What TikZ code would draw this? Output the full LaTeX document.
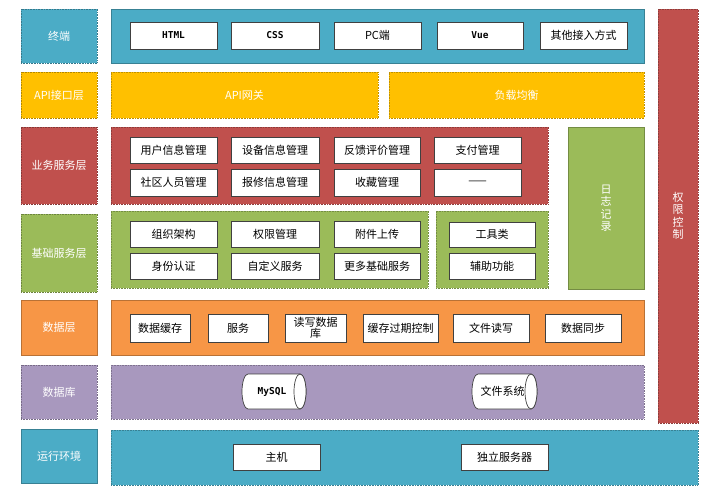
\documentclass[tikz,border=0pt]{standalone}
\usepackage{fontspec}
\setmainfont{Noto Sans CJK SC}
\newfontfamily\latmono{DejaVu Sans Mono}
\definecolor{cteal}{HTML}{4BACC6}
\definecolor{cyel}{HTML}{FFC000}
\definecolor{cred}{HTML}{C0504D}
\definecolor{cgreen}{HTML}{9BBB59}
\definecolor{corange}{HTML}{F79646}
\definecolor{cpurple}{HTML}{A898BE}
\newcommand\mybox[7]{%
  \pgfmathsetmacro\bxw{#4-#2}\pgfmathsetmacro\bxh{#5-#3}%
  \node[#6,minimum width=\bxw pt,minimum height=\bxh pt] (#1) at ({(#2+#4)/2},{(#3+#5)/2}) {#7};}
% horizontal cylinder: name, x1, y1, x2, y2, style, text
\newcommand\mycyl[7]{%
  \pgfmathsetmacro\cyrx{6}\pgfmathsetmacro\cyry{(#5-#3)/2}%
  \pgfmathsetmacro\cya{#2+\cyrx}\pgfmathsetmacro\cyb{#4-\cyrx}%
  \filldraw[cylstyle] (\cya,#3) -- (\cyb,#3)
     arc[start angle=-90,end angle=90,x radius=\cyrx,y radius=\cyry]
     -- (\cya,#5)
     arc[start angle=90,end angle=270,x radius=\cyrx,y radius=\cyry] -- cycle;
  \draw[cylstyle] (\cyb,{(#3+#5)/2}) ellipse[x radius=\cyrx,y radius=\cyry];
  \node[#6] (#1) at ({(#2+#4)/2-2},{(#3+#5)/2}) {#7};}
\begin{document}
\begin{tikzpicture}[x=1pt,y=-1pt,
  every node/.style={inner sep=0pt,outer sep=0pt,font=\fontsize{11}{13}\selectfont},
  lab/.style={fill=#1,draw=#1!70!black,densely dotted,line width=0.6pt,text=white},
  area/.style={fill=#1,draw=#1!75!black,line width=0.6pt,text=white},
  darea/.style={fill=#1,draw=#1!75!black,densely dotted,line width=0.6pt,text=white},
  item/.style={fill=white,draw=black!75,line width=0.7pt,text=black},
  lt/.style={font=\latmono\bfseries\fontsize{9.5}{11}\selectfont},
  cylstyle/.style={fill=white,draw=black!75,line width=0.7pt},
  cyltext/.style={text=black}]
\useasboundingbox (0,0) rectangle (708,491);
% right column
\mybox{perm}{658}{9}{698}{423}{darea=cred,align=center,font=\fontsize{11}{12.5}\selectfont}{权\\限\\控\\制}
% row 1
\mybox{l1}{21}{9}{97}{63}{lab=cteal}{终端}
\mybox{a1}{111}{9}{644}{63}{area=cteal}{}
\mybox{t1}{130}{22}{217}{49}{item,lt}{HTML}
\mybox{t2}{231}{22}{319}{49}{item,lt}{CSS}
\mybox{t3}{334}{22}{421}{49}{item}{PC端}
\mybox{t4}{437}{22}{523}{49}{item,lt}{Vue}
\mybox{t5}{540}{22}{627}{49}{item}{其他接入方式}
% row 2
\mybox{l2}{21}{72}{97}{118}{lab=cyel}{API接口层}
\mybox{a2}{111}{72}{378}{118}{darea=cyel}{API网关}
\mybox{a2b}{389}{72}{644}{118}{darea=cyel}{负载均衡}
% row 3
\mybox{l3}{21}{127}{97}{204}{lab=cred}{业务服务层}
\mybox{a3}{111}{127}{548}{204}{darea=cred}{}
\mybox{b1}{130}{137}{217}{163}{item}{用户信息管理}
\mybox{b2}{231}{137}{319}{163}{item}{设备信息管理}
\mybox{b3}{334}{137}{420}{163}{item}{反馈评价管理}
\mybox{b4}{434}{137}{521}{163}{item}{支付管理}
\mybox{b5}{130}{169}{217}{196}{item}{社区人员管理}
\mybox{b6}{231}{169}{319}{196}{item}{报修信息管理}
\mybox{b7}{334}{169}{420}{196}{item}{收藏管理}
\mybox{b8}{434}{169}{521}{196}{item}{——}
\mybox{log}{568}{127}{644}{289}{area=cgreen,align=center,font=\fontsize{11}{12.5}\selectfont}{日\\志\\记\\录}
% row 4
\mybox{l4}{21}{214}{97}{292}{lab=cgreen}{基础服务层}
\mybox{a4}{111}{211}{428}{288}{darea=cgreen}{}
\mybox{a4b}{436}{211}{548}{288}{darea=cgreen}{}
\mybox{c1}{130}{221}{217}{247}{item}{组织架构}
\mybox{c2}{231}{221}{319}{247}{item}{权限管理}
\mybox{c3}{334}{221}{420}{247}{item}{附件上传}
\mybox{c4}{130}{253}{217}{279}{item}{身份认证}
\mybox{c5}{231}{253}{319}{279}{item}{自定义服务}
\mybox{c6}{334}{253}{420}{279}{item}{更多基础服务}
\mybox{c7}{449}{222}{535}{247}{item}{工具类}
\mybox{c8}{449}{253}{535}{279}{item}{辅助功能}
% row 5
\mybox{l5}{21}{300}{97}{355}{area=corange}{数据层}
\mybox{a5}{111}{300}{644}{355}{area=corange}{}
\mybox{d1}{130}{314}{190}{342}{item}{数据缓存}
\mybox{d2}{208}{314}{268}{342}{item}{服务}
\mybox{d3}{285}{314}{346}{342}{item,align=center,font=\fontsize{11}{11.5}\selectfont}{读写数据\\库}
\mybox{d4}{363}{314}{438}{342}{item}{缓存过期控制}
\mybox{d5}{453}{314}{529}{342}{item}{文件读写}
\mybox{d6}{545}{314}{621}{342}{item}{数据同步}
% row 6
\mybox{l6}{21}{365}{97}{419}{lab=cpurple}{数据库}
\mybox{a6}{111}{365}{644}{419}{darea=cpurple}{}
\mycyl{mysql}{242}{374}{306}{409}{cyltext,lt}{MySQL}
\mycyl{fs}{472}{374}{537}{409}{cyltext}{文件系统}
% row 7
\mybox{l7}{21}{429}{97}{483}{area=cteal}{运行环境}
\mybox{a7}{111}{430}{698}{485}{darea=cteal}{}
\mybox{e1}{233}{444}{320}{470}{item}{主机}
\mybox{e2}{461}{444}{548}{470}{item}{独立服务器}
\end{tikzpicture}
\end{document}
